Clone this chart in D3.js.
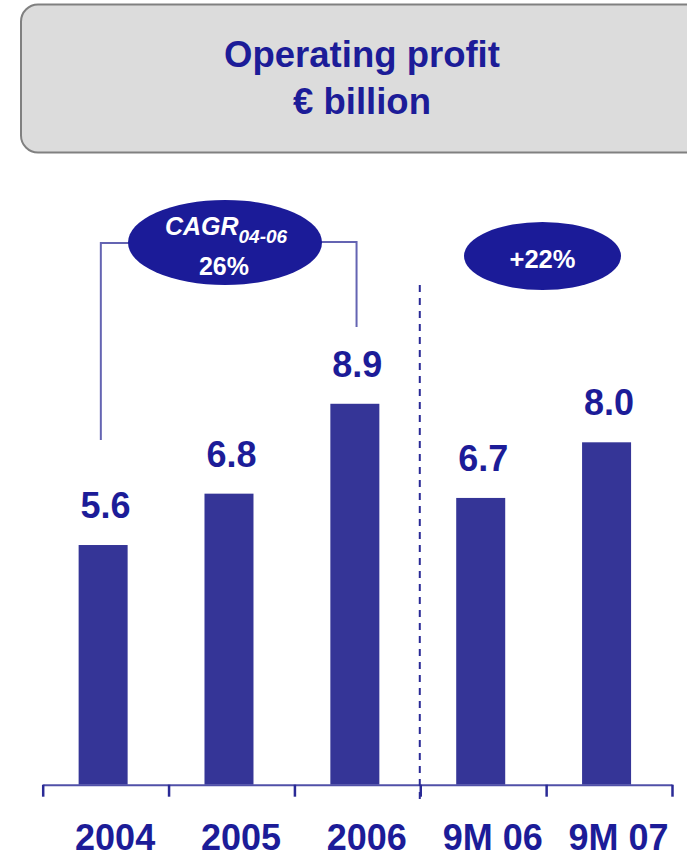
<!DOCTYPE html>
<html>
<head>
<meta charset="utf-8">
<script src="https://cdn.jsdelivr.net/npm/d3@7"></script>
<style>
  html, body { margin: 0; padding: 0; background: #ffffff; }
  svg { display: block; font-family: "Liberation Sans", Arial, sans-serif; }
</style>
</head>
<body>
<svg id="chart" width="687" height="858"></svg>
<script>
// Operating profit, € billion
const categories = ["2004", "2005", "2006", "9M 06", "9M 07"];
const values = [5.6, 6.8, 8.9, 6.7, 8.0];
const valueLabels = ["5.6", "6.8", "8.9", "6.7", "8.0"];
const titleLines = ["Operating profit", "€ billion"];
const cagrLabel = { main: "CAGR", sub: "04-06", value: "26%" };
const growthLabel = "+22%";

const navy = "#1c1c98";
const barColor = "#353597";
const bracketColor = "#6464b2";

const svg = d3.select("#chart");

// Title panel
svg.append("rect")
  .attr("x", 21).attr("y", 4.5)
  .attr("width", 720).attr("height", 148)
  .attr("rx", 17).attr("ry", 17)
  .attr("fill", "#dcdcdc")
  .attr("stroke", "#808080")
  .attr("stroke-width", 2);

svg.selectAll("text.title")
  .data(titleLines)
  .join("text")
  .attr("class", "title")
  .attr("x", 362)
  .attr("y", (d, i) => 67 + i * 46.5)
  .attr("text-anchor", "middle")
  .attr("font-size", 36.5)
  .attr("font-weight", "bold")
  .attr("fill", navy)
  .text(d => d);

// Scales
const axisY = 784.7;
const x = d3.scaleBand().domain(categories).range([42.7, 672]).padding(0);
const y = d3.scaleLinear().domain([0, 10]).range([axisY, 356.7]);
const barW = 49;
const barShift = -2.5;

// Bars
svg.selectAll("rect.bar")
  .data(values)
  .join("rect")
  .attr("class", "bar")
  .attr("x", (d, i) => x(categories[i]) + (x.bandwidth() - barW) / 2 + barShift)
  .attr("y", d => y(d))
  .attr("width", barW)
  .attr("height", d => y(0) - y(d))
  .attr("fill", barColor);

// Value labels above bars
svg.selectAll("text.value")
  .data(values)
  .join("text")
  .attr("class", "value")
  .attr("x", (d, i) => x(categories[i]) + x.bandwidth() / 2)
  .attr("y", d => y(d) - 27)
  .attr("text-anchor", "middle")
  .attr("font-size", 36)
  .attr("font-weight", "bold")
  .attr("fill", navy)
  .text((d, i) => valueLabels[i]);

// Category axis: ticks at band boundaries
const edge = d3.scaleLinear().domain([0, categories.length]).range(x.range());
const axis = svg.append("g")
  .attr("transform", `translate(0,${axisY})`)
  .call(d3.axisBottom(edge)
    .tickValues(d3.range(categories.length + 1))
    .tickSize(12)
    .tickSizeOuter(0)
    .tickFormat(""));
axis.select(".domain").attr("stroke", "#5050a8").attr("stroke-width", 2);
axis.selectAll(".tick line").attr("stroke", "#2a2a96").attr("stroke-width", 2.5);

svg.selectAll("text.cat")
  .data(categories)
  .join("text")
  .attr("class", "cat")
  .attr("x", d => x(d) + x.bandwidth() / 2 + 9.5)
  .attr("y", 850)
  .attr("text-anchor", "middle")
  .attr("font-size", 36)
  .attr("font-weight", "bold")
  .attr("fill", navy)
  .text(d => d);

// Divider between full years and nine-month figures
const divX = x(categories[3]) - 0.5;
svg.append("line")
  .attr("x1", divX).attr("x2", divX)
  .attr("y1", 285).attr("y2", 805)
  .attr("stroke", "#2a2a96")
  .attr("stroke-width", 2)
  .attr("stroke-dasharray", "7,6");

// CAGR bracket from 2004 to 2006
const bx1 = x(categories[0]) + x.bandwidth() / 2 - 4.8;
const bx2 = x(categories[2]) + x.bandwidth() / 2 - 0.8;
svg.append("path")
  .attr("d", `M${bx1},440 V243 H225 M225,242 H${bx2} V327`)
  .attr("fill", "none")
  .attr("stroke", bracketColor)
  .attr("stroke-width", 2);

svg.append("ellipse")
  .attr("cx", 225).attr("cy", 242.5)
  .attr("rx", 97).attr("ry", 42.5)
  .attr("fill", "#1b1b98");

const cagrText = svg.append("text")
  .attr("x", 226).attr("y", 235)
  .attr("text-anchor", "middle")
  .attr("font-style", "italic")
  .attr("font-weight", "bold")
  .attr("fill", "#ffffff");
cagrText.append("tspan").attr("font-size", 25).text(cagrLabel.main);
cagrText.append("tspan").attr("font-size", 19).attr("dy", 8).text(cagrLabel.sub);

svg.append("text")
  .attr("x", 224).attr("y", 275)
  .attr("text-anchor", "middle")
  .attr("font-size", 25)
  .attr("font-weight", "bold")
  .attr("fill", "#ffffff")
  .text(cagrLabel.value);

// Growth badge for the nine-month comparison
svg.append("ellipse")
  .attr("cx", 542.5).attr("cy", 256)
  .attr("rx", 78.5).attr("ry", 34)
  .attr("fill", "#1b1b98");

svg.append("text")
  .attr("x", 542.5).attr("y", 268)
  .attr("text-anchor", "middle")
  .attr("font-size", 25.5)
  .attr("font-weight", "bold")
  .attr("fill", "#ffffff")
  .text(growthLabel);
</script>
</body>
</html>
